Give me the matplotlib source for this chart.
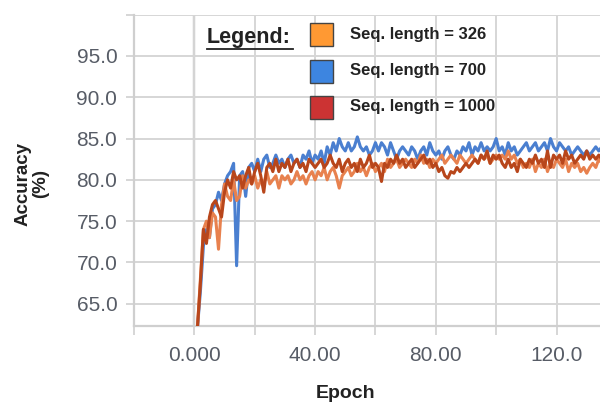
import matplotlib
matplotlib.use("Agg")
import matplotlib.pyplot as plt
from matplotlib.patches import Rectangle
from matplotlib.lines import Line2D

plt.rcParams['font.family'] = ['Liberation Sans', 'DejaVu Sans']

# datos (precision por epoca)
acc_700 = [
    62.0, 66.5, 72.0, 74.0, 73.0, 76.5, 77.0, 78.5, 77.5, 79.5,
    80.5, 81.0, 82.0, 69.6, 80.5, 81.0, 78.0, 81.5, 82.0, 81.0,
    82.5, 81.0, 82.5, 83.0, 81.5, 82.0, 83.0, 82.0, 82.5, 81.5,
    82.5, 83.0, 82.0, 82.5, 81.5, 83.0, 82.5, 83.5, 82.0, 83.0,
    82.5, 83.5, 82.0, 84.0, 83.0, 84.5, 83.5, 85.0, 84.0, 83.5,
    84.5, 83.5, 84.0, 85.2, 84.0, 83.5, 84.0, 83.0, 83.5, 84.5,
    83.5, 84.5, 84.0, 83.0, 84.5, 83.5, 82.5, 83.5, 84.0, 83.5,
    83.0, 84.0, 83.5, 82.5, 83.5, 84.0, 83.0, 84.5, 83.5, 83.0,
    83.5, 82.5, 83.5, 84.0, 83.0, 82.5, 83.5, 83.0, 84.0, 83.5,
    84.5, 83.0, 84.0, 83.5, 84.5, 83.5, 84.0, 83.5, 84.0, 85.0,
    83.5, 84.0, 83.0, 84.5, 83.5, 84.0, 83.0, 83.5, 84.0, 84.5,
    83.5, 84.0, 84.5, 83.5, 84.0, 84.5, 83.5, 85.0, 84.0, 83.5,
    84.5, 84.0, 83.5, 84.0, 83.0, 83.5, 84.0, 83.5, 83.0, 83.5,
    83.0, 83.5, 84.0, 83.5, 84.0,
]
acc_326 = [
    62.0, 68.0, 74.0, 75.0, 73.0, 76.0, 75.5, 71.6, 77.0, 79.5,
    78.0, 77.5, 80.0, 77.5, 78.0, 80.5, 79.0, 80.0, 79.5, 80.5,
    79.0, 80.0, 79.5, 81.0, 79.5, 80.0, 80.5, 79.0, 80.5, 80.0,
    80.5, 79.5, 80.0, 81.0, 80.0, 80.5, 79.5, 80.5, 81.0, 80.0,
    81.0, 80.5, 81.5, 80.0, 81.0, 81.5, 80.5, 79.0, 80.5, 81.0,
    81.5, 80.5, 81.0, 82.0, 81.0, 81.5, 80.5, 81.5, 82.0, 81.0,
    81.5, 82.0, 81.0, 82.5, 81.5, 82.0, 82.5, 81.5, 82.0, 82.5,
    82.0, 81.5, 82.5, 82.0, 83.0, 82.0, 82.5, 81.5, 82.5, 82.0,
    82.5, 83.0, 82.0, 82.5, 83.0, 82.5, 82.0, 83.0, 82.5, 82.0,
    82.5, 83.0, 82.5, 82.0, 83.0, 82.5, 83.0, 82.0, 82.5, 83.0,
    82.5, 83.0, 82.5, 83.5, 82.5, 83.0, 82.0, 82.5, 81.5, 82.0,
    81.5, 82.5, 81.0, 82.0, 81.5, 82.5, 81.0, 82.0, 81.5, 82.5,
    82.0, 81.5, 82.5, 81.0, 82.0, 81.5, 82.0, 81.0, 81.5, 80.8,
    81.5, 82.0, 81.5, 82.5, 82.0,
]
acc_1000 = [
    62.0, 67.5, 74.0, 72.3, 75.5, 77.0, 77.5, 76.5, 75.5, 78.5,
    80.0, 79.0, 81.0, 80.0, 80.5, 79.0, 80.5, 81.5, 79.5, 81.0,
    82.0, 80.5, 78.5, 81.5, 82.0, 81.0, 82.5, 81.0, 82.0, 81.5,
    82.5, 81.0, 82.0, 82.5, 81.5, 82.0, 81.0, 82.5, 82.0, 81.5,
    82.0, 82.5, 81.5, 82.0, 83.0, 82.0, 81.5, 82.5, 81.0, 82.0,
    82.5, 81.5, 82.0, 81.0, 82.5, 81.5, 82.0, 83.0, 81.5, 82.0,
    81.5, 79.8, 82.0, 81.5, 82.5, 82.0, 83.0, 82.0, 82.5, 81.5,
    82.0, 82.5, 81.5, 82.0, 82.5, 83.0, 82.0, 82.5, 81.5, 82.0,
    81.0, 81.5, 80.5, 80.2, 81.0, 80.8, 81.5, 81.0, 81.5, 82.0,
    81.5, 82.0, 82.5, 82.0, 83.0, 82.5, 83.5, 82.0, 83.0, 82.5,
    83.0, 82.0, 81.5, 82.5, 81.5, 82.0, 81.0, 82.5, 82.0, 81.5,
    82.5, 82.0, 83.0, 82.0, 82.5, 81.5, 83.5, 81.5, 83.0, 82.5,
    83.0, 82.0, 83.5, 82.5, 83.0, 82.0, 82.5, 83.0, 82.5, 83.5,
    82.5, 83.0, 82.5, 83.0, 82.5,
]
epocas = list(range(1, len(acc_700) + 1))

series_labels = ["Seq. length = 326", "Seq. length = 700", "Seq. length = 1000"]
legend_colors = ["#ff9933", "#3d85e0", "#cc3333"]

x_ticks = [0, 40, 80, 120]
x_tick_labels = ["0.000", "40.00", "80.00", "120.0"]
x_minor = [-20, 20, 60, 100]
y_ticks = [65, 70, 75, 80, 85, 90, 95, 100]
y_tick_labels = ["65.0", "70.0", "75.0", "80.0", "85.0", "90.0", "95.0", ""]

gris = "#d6d6d6"
texto = "#575c66"

fig = plt.figure(figsize=(6.0, 4.03), dpi=100)
ax = fig.add_axes([134 / 600, 77 / 403, 466 / 600, 311.3 / 403])

ax.plot(epocas, acc_700, color="#4a7fd0", lw=2.2, zorder=3)
ax.plot(epocas, acc_326, color="#e8814e", lw=2.2, zorder=4)
ax.plot(epocas, acc_1000, color="#b8461b", lw=2.2, zorder=5)

ax.set_xlim(-20, 134.4)
ax.set_ylim(62.3, 100)

ax.set_xticks(x_ticks)
ax.set_xticklabels(x_tick_labels)
ax.set_xticks(x_minor, minor=True)
ax.set_yticks(y_ticks)
ax.set_yticklabels(y_tick_labels)

ax.grid(True, which="both", color=gris, lw=1.4, zorder=0)
ax.axvline(0, color="#9a9a9a", lw=1.6, zorder=1)

for s in ["top", "right"]:
    ax.spines[s].set_visible(False)
for s in ["left", "bottom"]:
    ax.spines[s].set_color("#cfcfcf")
    ax.spines[s].set_linewidth(1.6)

ax.tick_params(axis="x", which="both", length=6.5, width=1.4, color=gris,
               labelsize=15, labelcolor=texto, pad=8)
ax.tick_params(axis="y", length=6, width=1.4, color=gris,
               labelsize=15, labelcolor=texto, pad=6)

fig.text(346 / 600, 1 - 394 / 403, "Epoch", fontsize=14, fontweight="bold",
         ha="center", va="center", color="#222222")
fig.text(32 / 600, 1 - 184 / 403, "Accuracy\n(%)", fontsize=13.5, fontweight="bold",
         ha="center", va="center", rotation=90, linespacing=1.05, color="#222222")

# leyenda dibujada a mano
fig.text(207 / 600, 1 - 38 / 403, "Legend:", fontsize=15.5, fontweight="bold",
         ha="left", va="center", color="#222222")
fig.add_artist(Line2D([207 / 600, 293 / 600], [1 - 48.5 / 403, 1 - 48.5 / 403],
                      color="#222222", lw=1.3))
filas = [34, 71, 107]
for lab, col, yc in zip(series_labels, legend_colors, filas):
    fig.add_artist(Rectangle((310 / 600, 1 - (yc + 11.5) / 403), 23 / 600, 23 / 403,
                             facecolor=col, edgecolor="#444444", lw=1.0))
    fig.text(350 / 600, 1 - yc / 403, lab, fontsize=12, fontweight="bold",
             ha="left", va="center", color="#222222")

fig.savefig("out.png", dpi=100)
